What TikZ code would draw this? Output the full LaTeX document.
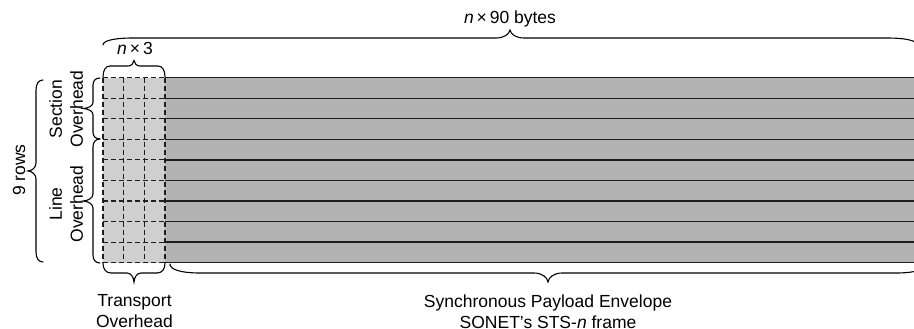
\documentclass[tikz,border=0pt]{standalone}
\usepackage{fontspec}
\setmainfont{Liberation Sans}
\definecolor{ohgray}{HTML}{CFCFCF}
\definecolor{spegray}{HTML}{B3B3B3}
\definecolor{rule}{HTML}{1E1E1E}
% horizontal curly brace: x1, x2, y of ends, y of bar, y of tip, end radius, tip radius
\newcommand\hbr[7]{%
  \draw[brace line] (#1,#3)
    .. controls (#1,{#3+0.6*(#4-#3)}) and ({#1+0.35*#6},#4) .. ({#1+#6},#4)
    -- ({(#1+#2)/2-#7},#4)
    .. controls ({(#1+#2)/2-0.45*#7},#4) and ({(#1+#2)/2-0.05*#7},{#4+0.45*(#5-#4)}) .. ({(#1+#2)/2},#5)
    .. controls ({(#1+#2)/2+0.05*#7},{#4+0.45*(#5-#4)}) and ({(#1+#2)/2+0.45*#7},#4) .. ({(#1+#2)/2+#7},#4)
    -- ({#2-#6},#4)
    .. controls ({#2-0.35*#6},#4) and (#2,{#3+0.6*(#4-#3)}) .. (#2,#3);}
% vertical curly brace: y1, y2, x of ends, x of bar, x of tip, end radius, tip radius
\newcommand\vbr[7]{%
  \draw[brace line] (#3,#1)
    .. controls ({#3+0.6*(#4-#3)},#1) and (#4,{#1+0.35*#6}) .. (#4,{#1+#6})
    -- (#4,{(#1+#2)/2-#7})
    .. controls (#4,{(#1+#2)/2-0.45*#7}) and ({#4+0.45*(#5-#4)},{(#1+#2)/2-0.05*#7}) .. (#5,{(#1+#2)/2})
    .. controls ({#4+0.45*(#5-#4)},{(#1+#2)/2+0.05*#7}) and (#4,{(#1+#2)/2+0.45*#7}) .. (#4,{(#1+#2)/2+#7})
    -- (#4,{#2-#6})
    .. controls (#4,{#2-0.35*#6}) and ({#3+0.6*(#4-#3)},#2) .. (#3,#2);}
\begin{document}
\begin{tikzpicture}[x=1pt,y=-1pt,
  brace line/.style={line width=1.1pt,black,line cap=round},
  row rule/.style={line width=1.3pt,rule},
  grid rule/.style={line width=1.1pt,rule,dash pattern=on 5pt off 3pt},
  label/.style={font=\fontsize{17.5}{21}\selectfont,inner sep=0pt,align=center}]
\clip (0,0) rectangle (914,329);

% frame fills: transport overhead and payload envelope
\fill[ohgray] (103,77.7) rectangle (165,262.7);
\fill[spegray] (165,77.7) rectangle (914,262.7);

% nine rows
\foreach \i in {0,...,9}{
  \pgfmathsetmacro\yy{77.7+20.555*\i}
  \draw[row rule] (165,\yy) -- (914,\yy);
  \draw[grid rule] (103,\yy) -- (165,\yy);
}
% overhead columns
\foreach \xx in {103,123.7,144.3,165}
  \draw[grid rule] (\xx,77.7) -- (\xx,262.7);

% braces
\hbr{103}{917}{45}{38}{30}{30}{14}
\hbr{103}{165}{77}{66}{60.5}{7}{6}
\hbr{103}{165}{263}{273}{282}{8}{7}
\hbr{170}{926}{264}{273}{282}{30}{14}
\vbr{78}{139}{100}{93}{83}{7}{6}
\vbr{139}{263}{100}{93}{83}{8}{7}
\vbr{80}{262}{43}{36}{28}{10}{8}

% labels
\node[label,anchor=base] (bytes) at (510,24) {\textit{n}\,×\,90 bytes};
\node[label,anchor=base] (cols) at (135,54.3) {\textit{n}\,×\,3};
\node[label,anchor=center] (toh) at (134.5,311) {Transport\\Overhead};
\node[label,anchor=center] (spe) at (548,312) {Synchronous Payload Envelope\\SONET’s STS-\textit{n} frame};
\node[label,anchor=center,rotate=90] (soh) at (66,109) {Section\\Overhead};
\node[label,anchor=center,rotate=90] (loh) at (66,204) {Line\\Overhead};
\node[label,anchor=base,rotate=90] (rows) at (25,170) {9 rows};
\end{tikzpicture}
\end{document}
